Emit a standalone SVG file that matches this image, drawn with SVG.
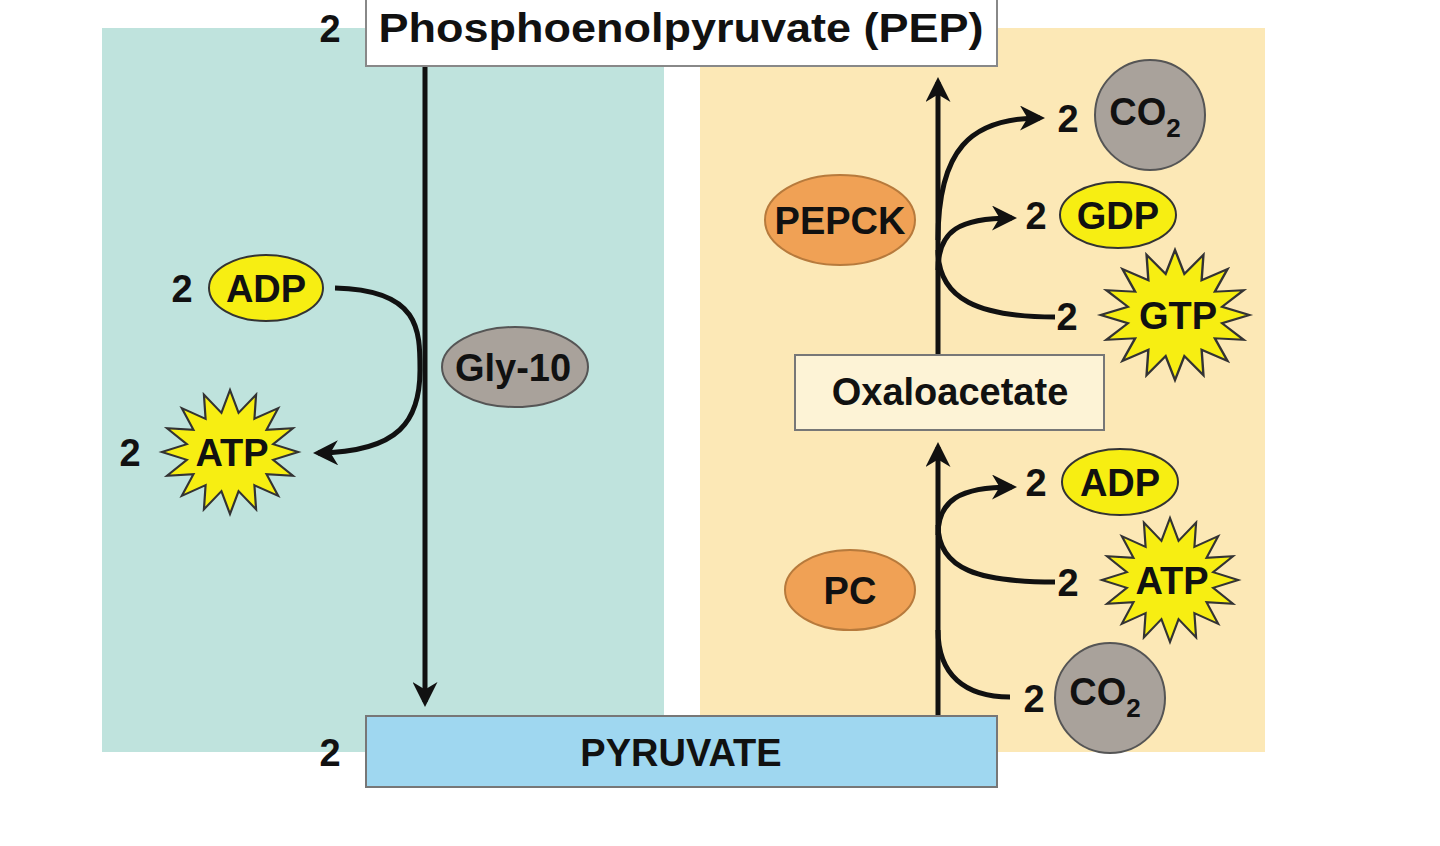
<svg xmlns="http://www.w3.org/2000/svg" xmlns:xlink="http://www.w3.org/1999/xlink" width="1440" height="846" viewBox="0 0 1440 846">
<style>
text{font-family:"Liberation Sans",Arial,sans-serif;font-weight:bold;fill:#111}
.t{font-size:38px;text-anchor:middle}
.n{font-size:38px;text-anchor:middle}
.y{fill:#f7ee12;stroke:#333;stroke-width:2}
.g{fill:#a9a29b;stroke:#555;stroke-width:2}
.o{fill:#f0a155;stroke:#b77a3c;stroke-width:2}
.c{fill:none;stroke:#111;stroke-width:5}
</style>
<defs>
<marker id="ah" viewBox="0 0 10 10" refX="8" refY="5" markerWidth="5" markerHeight="5" orient="auto" markerUnits="strokeWidth"><path d="M0,0L10,5L0,10L3,5z" fill="#111"/></marker>
<polygon id="star" points="62,0 39.2,7.8 57.3,23.7 33.2,22.2 43.8,43.8 22.2,33.2 23.7,57.3 7.8,39.2 0,62 -7.8,39.2 -23.7,57.3 -22.2,33.2 -43.8,43.8 -33.2,22.2 -57.3,23.7 -39.2,7.8 -62,0 -39.2,-7.8 -57.3,-23.7 -33.2,-22.2 -43.8,-43.8 -22.2,-33.2 -23.7,-57.3 -7.8,-39.2 0,-62 7.8,-39.2 23.7,-57.3 22.2,-33.2 43.8,-43.8 33.2,-22.2 57.3,-23.7 39.2,-7.8" fill="#f7ee12" stroke="#333" stroke-width="2"/>
</defs>
<rect width="1440" height="846" fill="#fff"/>
<rect x="102" y="28" width="562" height="724" fill="#bfe3dd"/>
<rect x="700" y="28" width="565" height="724" fill="#fce8b6"/>

<g id="connectors">
<line class="c" x1="425" y1="66" x2="425" y2="702" marker-end="url(#ah)"/>
<path class="c" d="M335,288 C420,290 420,330 420,370 C420,420 400,452 318,453" marker-end="url(#ah)"/>
<line class="c" x1="938" y1="355" x2="938" y2="82" marker-end="url(#ah)"/>
<path class="c" d="M938,240 C938,150 970,118 1040,118" marker-end="url(#ah)"/>
<path class="c" d="M938,270 C938,230 960,218 1012,218" marker-end="url(#ah)"/>
<path class="c" d="M938,250 C938,300 980,317 1055,317"/>
<line class="c" x1="938" y1="716" x2="938" y2="447" marker-end="url(#ah)"/>
<path class="c" d="M938,535 C938,500 960,487 1012,487" marker-end="url(#ah)"/>
<path class="c" d="M938,525 C938,570 980,582 1055,582"/>
<path class="c" d="M938,630 C938,675 965,697 1010,697"/>
</g>

<g id="pep"><rect x="366" y="-2" width="631" height="68" fill="#fff" stroke="#888" stroke-width="2"/><text class="t" x="681" y="42" font-size="40" textLength="605" lengthAdjust="spacingAndGlyphs" style="font-size:40px">Phosphoenolpyruvate (PEP)</text><text class="n" x="330" y="42">2</text></g>
<g id="pyruvate"><rect x="366" y="716" width="631" height="71" fill="#9fd7f0" stroke="#777" stroke-width="2"/><text class="t" x="681" y="766">PYRUVATE</text><text class="n" x="330" y="766">2</text></g>
<g id="adp1"><ellipse class="y" cx="266" cy="288" rx="57" ry="33"/><text class="t" x="266" y="302">ADP</text><text class="n" x="182" y="302">2</text></g>
<g id="atp1"><use xlink:href="#star" transform="translate(230,452) scale(1.1,1)"/><text class="t" x="232" y="466">ATP</text><text class="n" x="130" y="466">2</text></g>
<g id="gly10"><ellipse class="g" cx="515" cy="367" rx="73" ry="40"/><text class="t" x="513" y="381">Gly-10</text></g>
<g id="co2a"><circle class="g" cx="1150" cy="115" r="55"/><text class="t" x="1145" y="125">CO<tspan font-size="26" dy="12">2</tspan></text><text class="n" x="1068" y="132">2</text></g>
<g id="pepck"><ellipse class="o" cx="840" cy="220" rx="75" ry="45"/><text class="t" x="840" y="234">PEPCK</text></g>
<g id="gdp"><ellipse class="y" cx="1118" cy="215" rx="58" ry="33"/><text class="t" x="1118" y="229">GDP</text><text class="n" x="1036" y="229">2</text></g>
<g id="gtp"><use xlink:href="#star" transform="translate(1175,315) scale(1.2,1.05)"/><text class="t" x="1178" y="329">GTP</text><text class="n" x="1067" y="330">2</text></g>
<g id="oxaloacetate"><rect x="795" y="355" width="309" height="75" fill="#fdf3d6" stroke="#777" stroke-width="2"/><text class="t" x="950" y="405">Oxaloacetate</text></g>
<g id="adp2"><ellipse class="y" cx="1120" cy="482" rx="58" ry="33"/><text class="t" x="1120" y="496">ADP</text><text class="n" x="1036" y="496">2</text></g>
<g id="atp2"><use xlink:href="#star" transform="translate(1170,580) scale(1.1,1)"/><text class="t" x="1172" y="594">ATP</text><text class="n" x="1068" y="596">2</text></g>
<g id="pc"><ellipse class="o" cx="850" cy="590" rx="65" ry="40"/><text class="t" x="850" y="604">PC</text></g>
<g id="co2b"><circle class="g" cx="1110" cy="698" r="55"/><text class="t" x="1105" y="705">CO<tspan font-size="26" dy="12">2</tspan></text><text class="n" x="1034" y="712">2</text></g>
</svg>
